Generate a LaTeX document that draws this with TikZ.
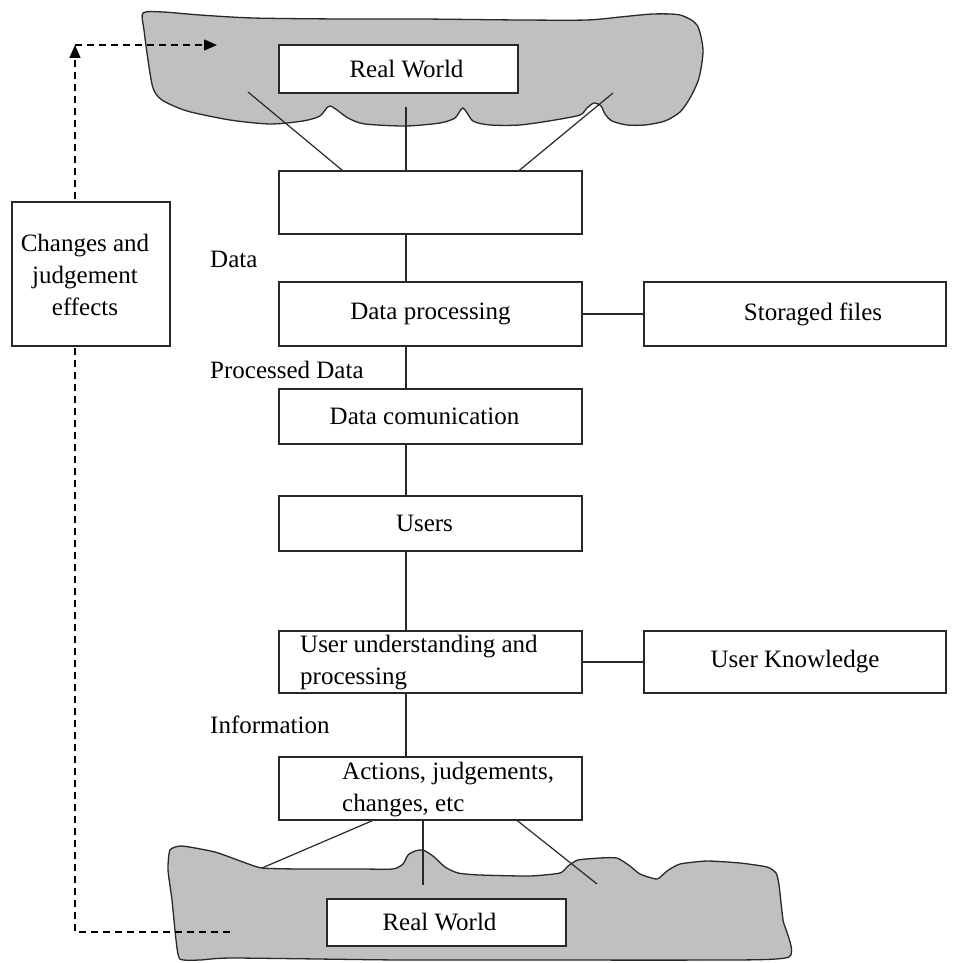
\documentclass[tikz,border=0pt]{standalone}
\usepackage{fontspec}
\setmainfont{Liberation Serif}
\usetikzlibrary{arrows.meta,calc}
\definecolor{blobgray}{RGB}{192,192,192}
\definecolor{inkline}{RGB}{40,40,40}
\tikzset{
  box/.style={draw=inkline, fill=white, line width=1.3pt, inner sep=0pt},
  link/.style={draw=inkline, line width=1.2pt},
  blob/.style={draw=inkline, fill=blobgray, line width=1.3pt},
  feedback/.style={draw=black, line width=1.4pt, dash pattern=on 7pt off 5pt},
  tip/.style={-{Triangle[length=13pt,width=11pt]}},
  lbl/.style={inner sep=0pt, anchor=base west}
}
\begin{document}
\begin{tikzpicture}[x=1pt,y=-1pt,font=\fontsize{25}{32}\selectfont]
\useasboundingbox[fill=white] (0,0) rectangle (963,963);

% upper "real world" cloud
\path[blob] plot[smooth cycle, tension=0.45] coordinates {
  (143,13) (163,12) (200,15) (253,18) (340,19) (420,19) (520,20) (587,20)
  (620,17) (653,14) (680,15) (697,25) (703,50) (699,78) (690,98) (680,112)
  (665,121) (645,125) (627,125) (612,121) (605,114) (601,106) (594,103)
  (587,108) (580,115) (555,120) (520,125) (490,125) (473,121) (463,108)
  (455,118) (440,123) (406,126) (365,124) (348,118) (330,106) (320,116)
  (303,121) (270,124) (230,120) (187,111) (162,100) (153,88) (148,60) (144,30)};

% lower "real world" ground
\path[blob] plot[smooth cycle, tension=0.35] coordinates {
  (170,850) (182,846) (215,852) (243,862) (262,868) (300,869) (360,869)
  (393,869) (403,864) (408,855) (415,851) (423,850) (433,856) (445,867)
  (458,873) (480,875) (530,876) (560,873) (568,866) (578,860) (600,858)
  (617,858) (630,866) (640,874) (657,879) (667,871) (680,864) (707,861)
  (740,863) (767,867) (776,873) (779,885) (783,920) (789,957)
  (700,960) (550,960) (400,960) (233,958) (200,960) (180,959) (176,940) (172,900)
  (168,870)};

% flow boxes
\node[box, minimum width=239pt, minimum height=48pt] (rwtop) at (398.5,69) {\hspace*{16pt}Real World};
\node[box, minimum width=303pt, minimum height=63pt] (sense) at (430.5,202.5) {};
\node[box, minimum width=303pt, minimum height=64pt] (dproc) at (430.5,314) {Data processing};
\node[box, minimum width=302pt, minimum height=64pt] (files) at (795,314) {\hspace*{36pt}Storaged files};
\node[box, minimum width=303pt, minimum height=55pt] (dcom) at (430.5,416.5) {Data comunication\hspace*{12pt}};
\node[box, minimum width=303pt, minimum height=55pt] (users) at (430.5,523.5) {Users\hspace*{12pt}};
\node[box, minimum width=303pt, minimum height=62pt] (uproc) at (430.5,662) {};
\node[inner sep=0pt, align=left, anchor=west] (uproctxt) at (300,663) {User understanding and\\processing};
\node[box, minimum width=302pt, minimum height=62pt] (uknow) at (795,662) {User Knowledge};
\node[box, minimum width=303pt, minimum height=63pt] (act) at (430.5,788.5) {};
\node[inner sep=0pt, align=left, anchor=west] (acttxt) at (342,790) {Actions, judgements,\\changes, etc};
\node[box, minimum width=239pt, minimum height=47pt] (rwbot) at (446.5,922.5) {Real World\hspace*{14pt}};

% flow labels
\node[lbl] (ldata) at (210,267) {Data};
\node[lbl] (lproc) at (210,378) {Processed Data};
\node[lbl] (linfo) at (210,733) {Information};

% spine of the flow
\coordinate (spine) at (406,0);
\draw[link] (sense.south -| spine) -- (dproc.north -| spine);
\draw[link] (dproc.south -| spine) -- (dcom.north -| spine);
\draw[link] (dcom.south -| spine) -- (users.north -| spine);
\draw[link] (users.south -| spine) -- (uproc.north -| spine);
\draw[link] (uproc.south -| spine) -- (act.north -| spine);
\draw[link] (dproc.east) -- (files.west);
\draw[link] (uproc.east) -- (uknow.west);

% observation lines from the upper world
\coordinate (obsL) at (248,92);
\coordinate (obsC) at (406,107);
\coordinate (obsR) at (613,93);
\draw[link] (obsL) -- ($(sense.north west)+(64,0)$);
\draw[link] (obsC) -- (sense.north -| spine);
\draw[link] (obsR) -- ($(sense.north west)+(241,0)$);

% effect lines into the lower world
\coordinate (effL) at (262,868);
\coordinate (effC) at (423,885);
\coordinate (effR) at (597,884);
\draw[link] ($(act.south west)+(94,0)$) -- (effL);
\draw[link] (act.south -| effC) -- (effC);
\draw[link] ($(act.south west)+(239,0)$) -- (effR);

% feedback loop
\coordinate (fbStart) at (230,932);
\coordinate (fbLow) at (75,932);
\coordinate (fbHigh) at (75,45);
\coordinate (fbEnd) at (217,45);
\draw[feedback, tip] (fbStart) -- (fbLow) -- (fbHigh);
\draw[feedback, tip] (fbHigh) -- (fbEnd);
\node[box, minimum width=158pt, minimum height=144pt] (fbbox) at (91,274) {};
\node[inner sep=0pt, align=center] (fbtxt) at (85,275) {Changes and\\judgement\\effects};
\end{tikzpicture}
\end{document}
